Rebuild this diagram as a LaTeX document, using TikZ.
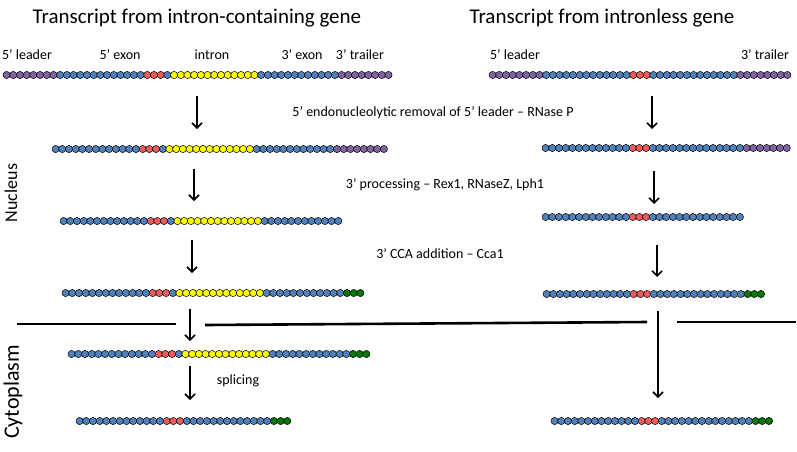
\documentclass[tikz,border=0pt]{standalone}
\usepackage{fontspec}
\setmainfont{Carlito}
\usetikzlibrary{arrows.meta}
\definecolor{bblue}{HTML}{4F81BD}
\definecolor{bred}{HTML}{F25A5A}
\definecolor{byel}{HTML}{FFFF00}
\definecolor{bpur}{HTML}{8064A2}
\definecolor{bgrn}{HTML}{007A00}
\newcount\beadk
\newcommand{\rnarow}[4]{%
  \global\beadk=0
  \foreach \c/\n in {#4}{%
    \foreach \i in {1,...,\n}{%
      \node[bead,fill=\c] (#1-\the\beadk) at ({#2+6.7*\the\beadk},#3) {};
      \global\advance\beadk by 1
    }%
  }%
}
\tikzset{
  bead/.style={circle,draw=black,line width=0.5pt,minimum size=7.2pt,inner sep=0pt},
  arr/.style={line width=1.6pt,-{Straight Barb[length=5pt,width=10pt]}},
  memb/.style={line width=2.6pt},
  ttl/.style={font=\fontsize{21}{25}\selectfont,inner sep=0pt},
  lbl/.style={font=\fontsize{14}{17}\selectfont,inner sep=0pt},
  proc/.style={font=\fontsize{14}{17}\selectfont,inner sep=0pt},
  side/.style={font=\fontsize{18}{22}\selectfont,inner sep=0pt,rotate=90}
}
\begin{document}
\begin{tikzpicture}[x=1pt,y=-1pt]
\useasboundingbox (0,0) rectangle (797,451);
% titles
\node[ttl] (t1) at (197,18) {Transcript from intron-containing gene};
\node[ttl] (t2) at (602,18) {Transcript from intronless gene};
% region labels
\node[lbl] (l1) at (27,55) {5’ leader};
\node[lbl] (l2) at (120,55) {5’ exon};
\node[lbl] (l3) at (212,55) {intron};
\node[lbl] (l4) at (302,55) {3’ exon};
\node[lbl] (l5) at (360,55) {3’ trailer};
\node[lbl] (l6) at (515,55) {5’ leader};
\node[lbl] (l7) at (765,55) {3’ trailer};
% process labels
\node[proc] (p1) at (433,113) {5’ endonucleolytic removal of 5’ leader – RNase P};
\node[proc] (p2) at (445,185) {3’ processing – Rex1, RNaseZ, Lph1};
\node[proc] (p3) at (440,254) {3’ CCA addition – Cca1};
\node[proc] (p4) at (238,381) {splicing};
% side labels
\node[side] (nuc) at (11,193) {Nucleus};
\node[side,font=\fontsize{22}{26}\selectfont] (cyt) at (13,392) {Cytoplasm};
% left rows
\rnarow{La}{6.6}{75}{bpur/8,bblue/13,bred/3,bblue/1,byel/13,bblue/12,bpur/8}
\rnarow{Lb}{55.6}{149}{bblue/13,bred/3,bblue/1,byel/13,bblue/12,bpur/8}
\rnarow{Lc}{63.6}{221}{bblue/13,bred/3,bblue/1,byel/13,bblue/12}
\rnarow{Ld}{65.6}{293}{bblue/13,bred/3,bblue/1,byel/13,bblue/12,bgrn/3}
\rnarow{Le}{71.6}{354}{bblue/13,bred/3,bblue/1,byel/13,bblue/12,bgrn/3}
\rnarow{Lf}{79.6}{421}{bblue/13,bred/3,bblue/13,bgrn/3}
% right rows
\rnarow{Ra}{492.6}{75}{bpur/8,bblue/13,bred/3,bblue/13,bpur/8}
\rnarow{Rb}{545.6}{148}{bblue/13,bred/3,bblue/14,bpur/7}
\rnarow{Rc}{545.6}{217}{bblue/13,bred/3,bblue/14}
\rnarow{Rd}{546.6}{294}{bblue/13,bred/3,bblue/14,bgrn/3}
\rnarow{Rf}{554.6}{421}{bblue/13,bred/3,bblue/14,bgrn/3}
% arrows
\coordinate (a1s) at (197,96);  \coordinate (a1e) at (197,129);
\coordinate (a2s) at (194,169); \coordinate (a2e) at (194,201);
\coordinate (a3s) at (192,240); \coordinate (a3e) at (192,273);
\coordinate (a4s) at (190,309); \coordinate (a4e) at (190,341);
\coordinate (a5s) at (190,366); \coordinate (a5e) at (190,400);
\coordinate (b1s) at (652,96);  \coordinate (b1e) at (652,129);
\coordinate (b2s) at (654,171); \coordinate (b2e) at (654,204);
\coordinate (b3s) at (657,245); \coordinate (b3e) at (657,277);
\coordinate (b4s) at (658,311); \coordinate (b4e) at (658,398);
\foreach \p in {a1,a2,a3,a4,a5,b1,b2,b3,b4}{\draw[arr] (\p s) -- (\p e);}
% membrane
\coordinate (m1a) at (17,324); \coordinate (m1b) at (176,324);
\coordinate (m2a) at (205,325); \coordinate (m2b) at (647,322);
\coordinate (m3a) at (677,322); \coordinate (m3b) at (796,322);
\draw[memb] (m1a) -- (m1b);
\draw[memb] (m2a) -- (m2b);
\draw[memb] (m3a) -- (m3b);
\end{tikzpicture}
\end{document}
